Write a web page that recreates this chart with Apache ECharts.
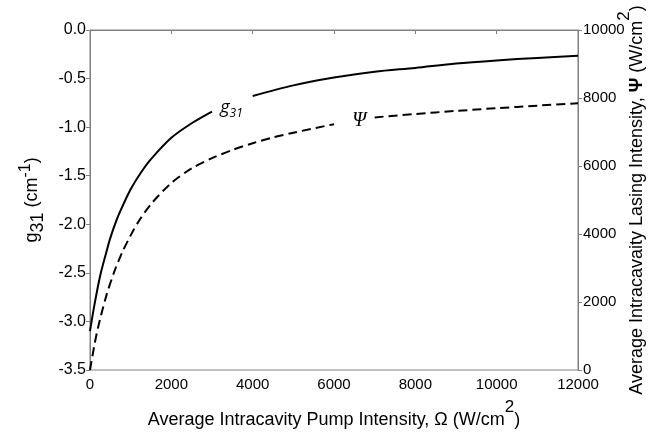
<!DOCTYPE html>
<html>
<head>
<meta charset="utf-8">
<script src="https://cdn.jsdelivr.net/npm/echarts@6/dist/echarts.min.js"></script>
<style>html,body{margin:0;padding:0;background:#fff}#c{width:661px;height:435px}</style>
</head>
<body>
<div id="c"></div>
<script>
// Pump intensity Ω (W/cm^2)
const omegaG = [0, 100, 250, 400, 500, 650, 750, 1000, 1250, 1500, 2000, 2500, 3000, 3500, 4000, 5000, 6000, 7000, 8000, 9000, 10000, 11000, 12000];
// g31 (cm^-1); null leaves the gap behind the "g31" label
const g31 = [-3.10, -2.85, -2.53, -2.29, -2.14, -1.96, -1.86, -1.64, -1.47, -1.33, -1.11, -0.96, -0.84, null, -0.68, -0.57, -0.49, -0.43, -0.39, -0.345, -0.313, -0.287, -0.265];

const omegaP = [0, 100, 200, 400, 600, 800, 1000, 1200, 1500, 2000, 2500, 3000, 3500, 4000, 4500, 5000, 6000, 6500, 7000, 8000, 9000, 10000, 11000, 12000];
// Ψ (W/cm^2); null leaves the gap behind the "Ψ" label
const psi = [0, 680, 1260, 2180, 2900, 3480, 3960, 4380, 4880, 5500, 5930, 6230, 6470, 6670, 6840, 6980, 7230, null, 7430, 7530, 7620, 7700, 7775, 7844];

const xTicks = { min: 0, max: 12000, interval: 2000 };
const leftTicks = { min: -3.5, max: 0, interval: 0.5 };
const rightTicks = { min: 0, max: 10000, interval: 2000 };

const labelG = [3480, -0.80];
const labelPsi = [6620, 7320];

const FONT = 'Liberation Sans';
const AXIS_COLOR = '#808080';

const chart = echarts.init(document.getElementById('c'), null, { renderer: 'canvas' });

const axisCommon = {
  axisLine: { show: true, lineStyle: { color: AXIS_COLOR, width: 1 } },
  axisTick: { show: true, inside: false, length: 4, lineStyle: { color: AXIS_COLOR } },
  splitLine: { show: false },
  axisLabel: { color: '#000', fontFamily: FONT, fontSize: 15, margin: 4, formatter: v => String(v) },
};

chart.setOption({
  animation: false,
  backgroundColor: '#fff',
  grid: { left: 90, right: 83, top: 30, bottom: 65, containLabel: false, outerBoundsMode: 'none', show: true, borderColor: AXIS_COLOR, borderWidth: 1 },
  xAxis: Object.assign({}, axisCommon, {
    type: 'value', min: xTicks.min, max: xTicks.max, interval: xTicks.interval,
    axisLabel: Object.assign({}, axisCommon.axisLabel, { margin: 7 }),
    name: '{a|Average Intracavity Pump Intensity, Ω (W/cm}{s|2}{a|)}',
    nameLocation: 'middle', nameGap: 29,
    nameTextStyle: {
      rich: {
        a: { fontFamily: FONT, fontSize: 18, color: '#000', lineHeight: 30, verticalAlign: 'bottom' },
        s: { fontFamily: FONT, fontSize: 17, color: '#000', lineHeight: 17, verticalAlign: 'top' }
      }
    }
  }),
  yAxis: [
    Object.assign({}, axisCommon, {
      type: 'value', position: 'left', min: leftTicks.min, max: leftTicks.max, interval: leftTicks.interval,
      axisLabel: Object.assign({}, axisCommon.axisLabel, { fontSize: 16, formatter: v => v.toFixed(1) }),
      name: '{a|g}{b|31}{a| (cm}{c|-1}{a|)}',
      nameLocation: 'middle', nameGap: 41, nameRotate: 90,
      nameTextStyle: {
        rich: {
          a: { fontFamily: FONT, fontSize: 18, color: '#000', lineHeight: 30, verticalAlign: 'middle' },
          b: { fontFamily: FONT, fontSize: 18, color: '#000', lineHeight: 30, verticalAlign: 'bottom' },
          c: { fontFamily: FONT, fontSize: 16, color: '#000', lineHeight: 16, verticalAlign: 'top' }
        }
      }
    }),
    Object.assign({}, axisCommon, {
      type: 'value', position: 'right', min: rightTicks.min, max: rightTicks.max, interval: rightTicks.interval,
      axisLabel: Object.assign({}, axisCommon.axisLabel, { margin: 5 }),
      name: '{a|Average Intracavaity Lasing Intensity, }{p|Ψ}{a| (W/cm}{s|2}{a|)}',
      nameLocation: 'middle', nameGap: 38, nameRotate: 90, nameMoveOverlap: false,
      nameTextStyle: {
        rich: {
          a: { fontFamily: FONT, fontSize: 18, color: '#000', lineHeight: 30, verticalAlign: 'bottom' },
          p: { fontFamily: FONT, fontSize: 18, fontWeight: 'bold', color: '#000', lineHeight: 30, verticalAlign: 'bottom' },
          s: { fontFamily: FONT, fontSize: 17, color: '#000', lineHeight: 17, verticalAlign: 'top' }
        }
      }
    })
  ],
  series: [
    {
      type: 'line', yAxisIndex: 0, smooth: 0.3, connectNulls: false, showSymbol: false, symbol: 'none',
      data: omegaG.map((x, i) => [x, g31[i]]),
      lineStyle: { color: '#000', width: 2, type: 'solid' },
      markPoint: {
        symbol: 'circle', symbolSize: 0,
        data: [{ coord: labelG }],
        label: {
          show: true, position: 'inside',
          formatter: '{g|g}{n|31}',
          rich: {
            g: { fontFamily: 'Open Sans', fontStyle: 'italic', fontSize: 18, color: '#000', lineHeight: 24, verticalAlign: 'middle' },
            n: { fontFamily: 'Open Sans', fontStyle: 'italic', fontSize: 12, color: '#000', lineHeight: 24, verticalAlign: 'bottom' }
          }
        }
      }
    },
    {
      type: 'line', yAxisIndex: 1, smooth: 0.3, connectNulls: false, showSymbol: false, symbol: 'none',
      data: omegaP.map((x, i) => [x, psi[i]]),
      lineStyle: { color: '#000', width: 2, type: [9, 5] },
      markPoint: {
        symbol: 'circle', symbolSize: 0,
        data: [{ coord: labelPsi }],
        label: {
          show: true, position: 'inside', formatter: 'Ψ',
          fontFamily: 'Liberation Serif', fontStyle: 'italic', fontSize: 20, color: '#000'
        }
      }
    }
  ]
});
</script>
</body>
</html>
